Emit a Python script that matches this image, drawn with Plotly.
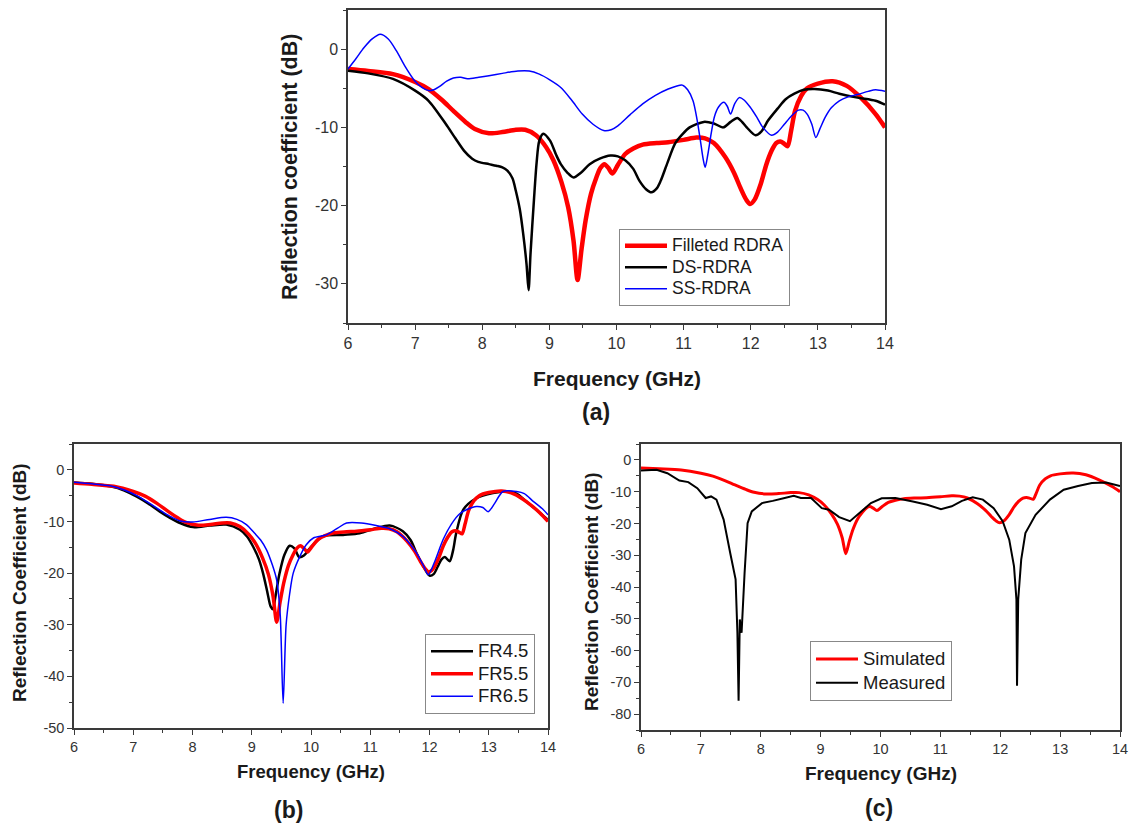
import plotly.graph_objects as go

# ---------------- data ----------------
# (a) / shared simulated curve (Filleted RDRA = FR5.5 = Simulated)
filleted_f = [6.0, 6.3, 6.67, 7.0, 7.2, 7.4, 7.57, 7.75, 7.89, 8.1, 8.3, 8.5, 8.64, 8.8, 8.95, 9.06, 9.18, 9.28,
              9.36, 9.42, 9.48, 9.54, 9.62, 9.7, 9.76, 9.82, 9.88, 9.94, 10.02, 10.13, 10.25, 10.39, 10.6, 10.77,
              11.0, 11.19, 11.32, 11.45, 11.62, 11.75, 11.85, 11.93, 11.99, 12.06, 12.15, 12.23, 12.31, 12.38,
              12.44, 12.5, 12.55, 12.6, 12.66, 12.75, 12.84, 13.0, 13.22, 13.43, 13.64, 13.86, 14.0]
filleted_db = [-2.55, -2.8, -3.2, -4.2, -5.1, -6.5, -7.9, -9.3, -10.2, -10.75, -10.6, -10.3, -10.3, -11.0, -12.5,
               -14.2, -17.0, -20.2, -24.5, -29.5, -25.5, -21.9, -18.5, -16.4, -15.2, -14.7, -15.2, -15.9, -14.8,
               -13.4, -12.7, -12.2, -12.0, -11.9, -11.6, -11.3, -11.4, -12.0, -13.8, -15.8, -17.8, -19.2, -19.8,
               -19.2, -17.2, -14.8, -13.0, -12.0, -11.8, -12.1, -12.4, -10.5, -7.9, -6.0, -5.0, -4.4, -4.1, -4.7,
               -6.2, -8.3, -10.0]

ds_f = [6.0, 6.3, 6.67, 7.0, 7.2, 7.46, 7.6, 7.73, 7.85, 7.94, 8.1, 8.21, 8.3, 8.37, 8.45, 8.5, 8.56, 8.61, 8.66,
        8.69, 8.72, 8.77, 8.81, 8.85, 8.91, 9.01, 9.1, 9.17, 9.27, 9.36, 9.47, 9.6, 9.75, 9.91, 10.02, 10.13, 10.25,
        10.34, 10.44, 10.52, 10.6, 10.66, 10.76, 10.87, 10.98, 11.09, 11.3, 11.45, 11.59, 11.7, 11.8, 11.87, 11.94,
        12.07, 12.16, 12.26, 12.4, 12.52, 12.65, 12.79, 12.95, 13.15, 13.32, 13.59, 13.86, 14.0]
ds_db = [-2.76, -3.1, -3.8, -5.3, -6.6, -9.6, -11.4, -13.0, -14.0, -14.4, -14.7, -14.9, -15.1, -15.5, -16.5, -18.1,
         -20.5, -23.6, -27.5, -30.8, -26.0, -19.3, -14.5, -11.7, -10.8, -11.7, -13.5, -14.7, -15.8, -16.4, -15.8,
         -14.7, -14.0, -13.6, -13.7, -14.2, -15.3, -16.8, -17.9, -18.3, -17.8, -16.8, -14.5, -12.1, -10.9, -10.0,
         -9.3, -9.5, -10.0, -9.3, -8.8, -9.3, -10.0, -11.0, -10.5, -9.1, -7.6, -6.4, -5.7, -5.2, -5.1, -5.3, -5.7,
         -6.2, -6.6, -7.1]

ss_f = [6.0, 6.12, 6.24, 6.36, 6.48, 6.6, 6.72, 6.85, 6.99, 7.1, 7.2, 7.28, 7.36, 7.47, 7.57, 7.68, 7.78, 7.95,
        8.1, 8.3, 8.53, 8.7, 8.85, 9.0, 9.17, 9.33, 9.49, 9.65, 9.81, 9.92, 10.02, 10.2, 10.39, 10.58, 10.77, 10.9,
        10.98, 11.06, 11.14, 11.2, 11.25, 11.29, 11.32, 11.36, 11.41, 11.46, 11.52, 11.6, 11.65, 11.7, 11.76,
        11.83, 11.9, 11.99, 12.09, 12.18, 12.31, 12.4, 12.5, 12.6, 12.71, 12.78, 12.84, 12.91, 12.97, 13.03,
        13.11, 13.2, 13.32, 13.45, 13.59, 13.75, 13.86, 14.0]
ss_db = [-2.55, -1.2, 0.2, 1.3, 1.9, 1.3, -0.2, -2.2, -4.0, -4.9, -5.3, -5.2, -4.8, -4.1, -3.7, -3.6, -3.8, -3.6,
         -3.4, -3.1, -2.8, -2.8, -3.2, -3.9, -4.9, -6.5, -8.3, -9.6, -10.4, -10.3, -9.8, -8.4, -7.0, -5.9, -5.1,
         -4.7, -4.6, -5.2, -6.6, -9.0, -11.7, -14.0, -15.1, -13.5, -10.8, -8.6, -7.4, -6.8, -7.3, -8.3, -7.0,
         -6.2, -6.5, -7.4, -8.7, -10.0, -11.0, -10.6, -9.6, -8.6, -7.8, -7.8, -8.3, -9.6, -11.3, -10.2, -8.7,
         -7.5, -6.6, -6.1, -5.8, -5.4, -5.2, -5.4]

# (b)
fr45_f = [6.0, 6.3, 6.61, 6.85, 7.06, 7.25, 7.45, 7.62, 7.79, 8.01, 8.29, 8.57, 8.8, 8.92, 9.02, 9.12, 9.19, 9.26,
          9.32, 9.36, 9.39, 9.43, 9.47, 9.55, 9.64, 9.72, 9.8, 9.88, 9.98, 10.2, 10.54, 10.82, 11.1, 11.33, 11.55,
          11.68, 11.78, 11.9, 12.0, 12.07, 12.14, 12.2, 12.26, 12.34, 12.4, 12.45, 12.57, 12.79, 13.07, 13.3,
          13.47, 13.63, 13.82, 14.0]
fr45_db = [-2.45, -2.7, -3.2, -4.0, -5.2, -6.5, -8.1, -9.3, -10.3, -11.1, -10.8, -10.6, -11.6, -12.9, -14.8, -17.3,
           -20.0, -23.5, -26.5, -27.0, -25.2, -22.5, -20.0, -16.5, -14.7, -15.2, -16.9, -16.6, -15.2, -12.9, -12.6,
           -12.3, -11.3, -10.8, -11.9, -13.6, -16.1, -18.8, -20.5, -20.2, -18.7, -17.4, -16.9, -17.7, -15.5,
           -12.3, -7.7, -5.5, -4.5, -4.2, -4.6, -6.1, -7.9, -9.7]

fr65_f = [6.0, 6.3, 6.61, 6.85, 7.06, 7.25, 7.45, 7.62, 7.79, 8.0, 8.29, 8.57, 8.75, 8.91, 9.05, 9.15, 9.25, 9.35,
          9.42, 9.48, 9.53, 9.58, 9.64, 9.7, 9.81, 9.92, 10.04, 10.26, 10.45, 10.6, 10.85, 11.1, 11.35, 11.55,
          11.68, 11.78, 11.9, 11.98, 12.08, 12.23, 12.37, 12.51, 12.65, 12.79, 12.9, 12.99, 13.1, 13.24, 13.47,
          13.6, 13.75, 13.9, 14.0]
fr65_db = [-2.4, -2.7, -3.1, -3.9, -5.0, -6.3, -7.8, -9.0, -9.9, -10.1, -9.6, -9.2, -9.6, -10.6, -12.3, -13.6,
           -15.5, -18.5, -21.3, -28.0, -45.2, -30.0, -24.0, -20.0, -16.8, -14.5, -13.2, -12.6, -11.3, -10.3, -10.3,
           -10.8, -11.5, -12.9, -14.5, -16.1, -18.6, -20.3, -18.0, -13.5, -10.5, -8.5, -7.6, -7.1, -7.3, -8.1,
           -6.5, -4.2, -4.2, -4.6, -6.1, -7.5, -8.7]

# (c) measured
meas_f = [6.0, 6.26, 6.44, 6.64, 6.79, 6.94, 7.08, 7.17, 7.26, 7.38, 7.49, 7.58, 7.61, 7.63, 7.65, 7.68, 7.73,
          7.78, 7.85, 8.02, 8.2, 8.32, 8.4, 8.55, 8.67, 8.84, 9.02, 9.14, 9.31, 9.49, 9.66, 9.84, 10.02, 10.25,
          10.54, 10.78, 11.01, 11.19, 11.36, 11.54, 11.71, 11.89, 12.04, 12.15, 12.23, 12.27, 12.28, 12.3, 12.35,
          12.42, 12.59, 12.83, 13.06, 13.3, 13.53, 13.77, 14.0]
meas_db = [-3.3, -3.1, -4.2, -6.5, -7.0, -8.9, -12.0, -11.5, -12.5, -18.8, -29.3, -37.6, -54.4, -75.8, -50.2,
           -54.4, -35.6, -19.9, -16.2, -13.6, -12.9, -12.5, -12.0, -11.3, -12.0, -12.0, -15.2, -15.7, -18.0, -19.3,
           -16.5, -13.6, -12.1, -12.0, -13.1, -14.1, -15.5, -14.6, -12.9, -11.8, -12.5, -15.2, -19.3, -25.1,
           -33.5, -43.9, -71.1, -43.9, -31.4, -23.0, -17.3, -12.5, -9.4, -8.2, -7.3, -7.1, -8.2]

x_ticks = [6, 7, 8, 9, 10, 11, 12, 13, 14]
x_ticktext = ["6", "7", "8", "9", "10", "11", "12", "13", "14"]
ya_ticks = [0, -10, -20, -30]
ya_ticktext = ["0", "-10", "-20", "-30"]
yb_ticks = [0, -10, -20, -30, -40, -50]
yb_ticktext = ["0", "-10", "-20", "-30", "-40", "-50"]
yc_ticks = [0, -10, -20, -30, -40, -50, -60, -70, -80]
yc_ticktext = ["0", "-10", "-20", "-30", "-40", "-50", "-60", "-70", "-80"]

# ---------------- figure ----------------
W, H = 1131, 830
FONT = "Liberation Sans, Arial, sans-serif"
AX = "#3a3a3a"
TK = "#333333"

fig = go.Figure()


def px_x(p):
    return p / W


def px_y(p):
    return 1 - p / H


def big(name, size):
    return '<span style="font-size:%spx">%s</span>' % (size, name)


SM = 0.8
# (a)
fig.add_trace(go.Scatter(x=filleted_f, y=filleted_db, name=big("Filleted RDRA", 17.5), mode="lines",
                         line=dict(color="#ff0000", width=4.5, shape="spline", smoothing=SM),
                         xaxis="x", yaxis="y", legend="legend"))
fig.add_trace(go.Scatter(x=ds_f, y=ds_db, name=big("DS-RDRA", 17.5), mode="lines",
                         line=dict(color="#000000", width=2.5, shape="spline", smoothing=SM),
                         xaxis="x", yaxis="y", legend="legend"))
fig.add_trace(go.Scatter(x=ss_f, y=ss_db, name=big("SS-RDRA", 17.5), mode="lines",
                         line=dict(color="#0000ff", width=1.5, shape="spline", smoothing=SM),
                         xaxis="x", yaxis="y", legend="legend"))
# (b)
fig.add_trace(go.Scatter(x=fr45_f, y=fr45_db, name=big("FR4.5", 18.5), mode="lines",
                         line=dict(color="#000000", width=2.5, shape="spline", smoothing=SM),
                         xaxis="x2", yaxis="y2", legend="legend2"))
fig.add_trace(go.Scatter(x=filleted_f, y=filleted_db, name=big("FR5.5", 18.5), mode="lines",
                         line=dict(color="#ff0000", width=3.5, shape="spline", smoothing=SM),
                         xaxis="x2", yaxis="y2", legend="legend2"))
fig.add_trace(go.Scatter(x=fr65_f, y=fr65_db, name=big("FR6.5", 18.5), mode="lines",
                         line=dict(color="#0000ff", width=1.5, shape="spline", smoothing=SM),
                         xaxis="x2", yaxis="y2", legend="legend2"))
# (c)
fig.add_trace(go.Scatter(x=filleted_f, y=filleted_db, name=big("Simulated", 18.5), mode="lines",
                         line=dict(color="#ff0000", width=3, shape="spline", smoothing=SM),
                         xaxis="x3", yaxis="y3", legend="legend3"))
fig.add_trace(go.Scatter(x=meas_f, y=meas_db, name=big("Measured", 18.5), mode="lines",
                         line=dict(color="#000000", width=2),
                         xaxis="x3", yaxis="y3", legend="legend3"))


def xax(domain, size, anchor):
    return dict(domain=domain, anchor=anchor, range=[6, 14], tickvals=x_ticks, ticktext=x_ticktext,
                ticks="outside", ticklen=5, tickwidth=1.2, tickcolor=AX,
                minor=dict(dtick=0.5, tick0=6, ticks="outside", ticklen=3, tickcolor=AX),
                showline=True, linecolor=AX, linewidth=1.5, mirror=True, showgrid=False, zeroline=False,
                automargin=False, tickfont=dict(family=FONT, size=size, color=TK))


def yax(domain, rng, vals, text, size, anchor):
    return dict(domain=domain, anchor=anchor, range=rng, tickvals=vals, ticktext=text,
                ticks="outside", ticklen=5, tickwidth=1.2, tickcolor=AX,
                minor=dict(dtick=5, tick0=0, ticks="outside", ticklen=3, tickcolor=AX),
                showline=True, linecolor=AX, linewidth=1.5, mirror=True, showgrid=False, zeroline=False,
                automargin=False, tickfont=dict(family=FONT, size=size, color=TK))


xa = xax([px_x(348), px_x(885)], 16, "y")
xb = xax([px_x(74), px_x(548)], 14.5, "y2")
xc = xax([px_x(641), px_x(1120)], 14.5, "y3")
ya = yax([px_y(323), px_y(10)], [-35, 5], ya_ticks, ya_ticktext, 16, "x")
yb = yax([px_y(728), px_y(444)], [-50, 5], yb_ticks, yb_ticktext, 14.5, "x2")
yc = yax([px_y(730), px_y(444)], [-85, 5], yc_ticks, yc_ticktext, 14.5, "x3")

legend_common = dict(xanchor="left", yanchor="top", bgcolor="white", bordercolor="#888888", borderwidth=1,
                     itemwidth=42, tracegroupgap=0)

fig.update_layout(
    width=W, height=H, margin=dict(l=0, r=0, t=0, b=0),
    paper_bgcolor="white", plot_bgcolor="white",
    font=dict(family=FONT, color="#1a1a1a"),
    xaxis=xa, yaxis=ya, xaxis2=xb, yaxis2=yb, xaxis3=xc, yaxis3=yc,
    legend=dict(x=px_x(619), y=px_y(229), font=dict(family=FONT, size=14.2, color="#1a1a1a"), **legend_common),
    legend2=dict(x=px_x(425), y=px_y(634), font=dict(family=FONT, size=15, color="#1a1a1a"), **legend_common),
    legend3=dict(x=px_x(810), y=px_y(641), font=dict(family=FONT, size=16, color="#1a1a1a"), **legend_common),
    showlegend=True,
)


def ann(text, x, y, size, angle=0):
    fig.add_annotation(text="<b>" + text + "</b>", x=px_x(x), y=px_y(y), xref="paper", yref="paper",
                       showarrow=False, textangle=angle, xanchor="center", yanchor="middle",
                       font=dict(family=FONT, size=size, color="#1a1a1a"))


ann("Reflection coefficient (dB)", 290, 167, 21.5, -90)
ann("Frequency (GHz)", 617, 378, 21)
ann("(a)", 596, 412, 23)
ann("Reflection Coefficient (dB)", 19, 583, 19, -90)
ann("Frequency (GHz)", 311, 771, 18.5)
ann("(b)", 288, 810, 23)
ann("Reflection Coefficient (dB)", 591, 592, 19, -90)
ann("Frequency (GHz)", 881, 773, 19)
ann("(c)", 879, 808, 23)

# remove the browser's default 8px body margin so the figure fills the window exactly
fig.write_html("out.html", config={"displayModeBar": False},
               post_script="document.body.style.margin='0';document.body.style.overflow='hidden';")
